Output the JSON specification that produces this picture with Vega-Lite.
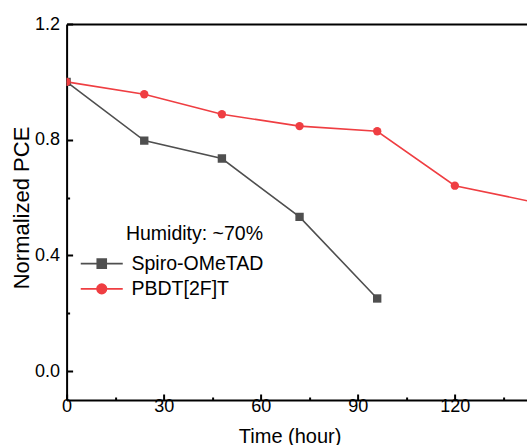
{
  "$schema": "https://vega.github.io/schema/vega-lite/v6.json",
  "width": 460.4,
  "height": 376,
  "autosize": {"type": "none"},
  "padding": {"left": 66.6, "top": 24, "right": 0, "bottom": 45},
  "background": "white",
  "config": {"view": {"stroke": null}, "font": "Liberation Sans"},
  "data": {
    "values": [
      {"series": "Spiro-OMeTAD", "time": 0, "pce": 1.0},
      {"series": "Spiro-OMeTAD", "time": 24, "pce": 0.797},
      {"series": "Spiro-OMeTAD", "time": 48, "pce": 0.735},
      {"series": "Spiro-OMeTAD", "time": 72, "pce": 0.533},
      {"series": "Spiro-OMeTAD", "time": 96, "pce": 0.251},
      {"series": "PBDT[2F]T", "time": 0, "pce": 1.0},
      {"series": "PBDT[2F]T", "time": 24, "pce": 0.957},
      {"series": "PBDT[2F]T", "time": 48, "pce": 0.888},
      {"series": "PBDT[2F]T", "time": 72, "pce": 0.847},
      {"series": "PBDT[2F]T", "time": 96, "pce": 0.829},
      {"series": "PBDT[2F]T", "time": 120, "pce": 0.641},
      {"series": "PBDT[2F]T", "time": 144, "pce": 0.585}
    ]
  },
  "layer": [
    {
      "mark": {"type": "line", "strokeWidth": 1.6, "clip": true},
      "encoding": {
        "x": {
          "field": "time", "type": "quantitative",
          "scale": {"domain": [0, 142.3], "nice": false, "zero": false},
          "axis": {
            "orient": "bottom",
            "values": [0, 15, 30, 45, 60, 75, 90, 105, 120, 135],
            "labelExpr": "datum.value % 30 === 0 ? datum.label : ''",
            "labelFlush": false,
            "tickSize": {"condition": {"test": "datum.value % 30 === 0", "value": -6}, "value": -3},
            "tickWidth": 2, "tickColor": "black",
            "domainWidth": 2, "domainColor": "black",
            "labelFontSize": 18, "labelColor": "black", "labelPadding": 3.5,
            "grid": false,
            "title": "Time (hour)", "titleFontSize": 20, "titleFontWeight": "normal", "titleColor": "black",
            "titleX": 223, "titleY": 26, "titleBaseline": "top", "titleAlign": "center"
          }
        },
        "y": {
          "field": "pce", "type": "quantitative",
          "scale": {"domain": [-0.1, 1.2], "nice": false, "zero": false},
          "axis": {
            "values": [0, 0.2, 0.4, 0.6, 0.8, 1.0, 1.2],
            "labelExpr": "round(datum.value*10) % 4 === 0 ? format(datum.value, '.1f') : ''",
            "labelFlush": false,
            "tickSize": {"condition": {"test": "round(datum.value*10) % 4 === 0", "value": -6}, "value": -3},
            "tickWidth": 2, "tickColor": "black",
            "domainWidth": 2, "domainColor": "black",
            "labelFontSize": 18, "labelColor": "black", "labelPadding": 13,
            "grid": false,
            "title": "Normalized PCE", "titleFontSize": 22, "titleFontWeight": "normal", "titleColor": "black",
            "titleX": -38, "titleY": 183.5, "titleBaseline": "alphabetic", "titleAlign": "center", "titleAngle": -90
          }
        },
        "color": {
          "field": "series", "type": "nominal",
          "scale": {"domain": ["Spiro-OMeTAD", "PBDT[2F]T"], "range": ["#4f4f4f", "#ef3e42"]},
          "legend": {
            "orient": "none", "legendX": 25.4, "legendY": 201.4,
            "title": "Humidity: ~70%", "titleFontSize": 19.5, "titleFontWeight": "normal", "titleColor": "black",
            "titleAnchor": "end", "titlePadding": 9,
            "labelFontSize": 19.5, "labelColor": "black", "labelOffset": 20,
            "rowPadding": 4.2, "symbolSize": 100, "padding": 0,
            "encode": {
              "symbols": {
                "update": {
                  "shape": {"signal": "datum.value === 'Spiro-OMeTAD' ? 'M-4.2,0H4.2M-0.9,-0.9H0.9V0.9H-0.9Z' : 'M-4.2,0H4.2M0.96,0A0.96,0.96 0 1 1 -0.96,0A0.96,0.96 0 1 1 0.96,0Z'"},
                  "fill": {"signal": "datum.value === 'Spiro-OMeTAD' ? '#4f4f4f' : '#ef3e42'"},
                  "stroke": {"signal": "datum.value === 'Spiro-OMeTAD' ? '#4f4f4f' : '#ef3e42'"},
                  "strokeWidth": {"value": 1.6},
                  "opacity": {"value": 1},
                  "fillOpacity": {"value": 1},
                  "strokeOpacity": {"value": 1},
                  "size": {"value": 100}
                }
              }
            }
          }
        }
      }
    },
    {
      "mark": {"type": "point", "filled": true, "opacity": 1, "size": 70, "clip": true},
      "encoding": {
        "x": {
          "field": "time", "type": "quantitative",
          "axis": {"orient": "top", "labels": false, "ticks": false, "domainWidth": 2, "domainColor": "black", "grid": false, "title": null}
        },
        "y": {"field": "pce", "type": "quantitative"},
        "color": {"condition": {"test": "datum.series === 'Spiro-OMeTAD'", "value": "#4f4f4f"}, "value": "#ef3e42"},
        "shape": {"condition": {"test": "datum.series === 'Spiro-OMeTAD'", "value": "square"}, "value": "circle"}
      }
    }
  ],
  "resolve": {"axis": {"x": "independent"}}
}
